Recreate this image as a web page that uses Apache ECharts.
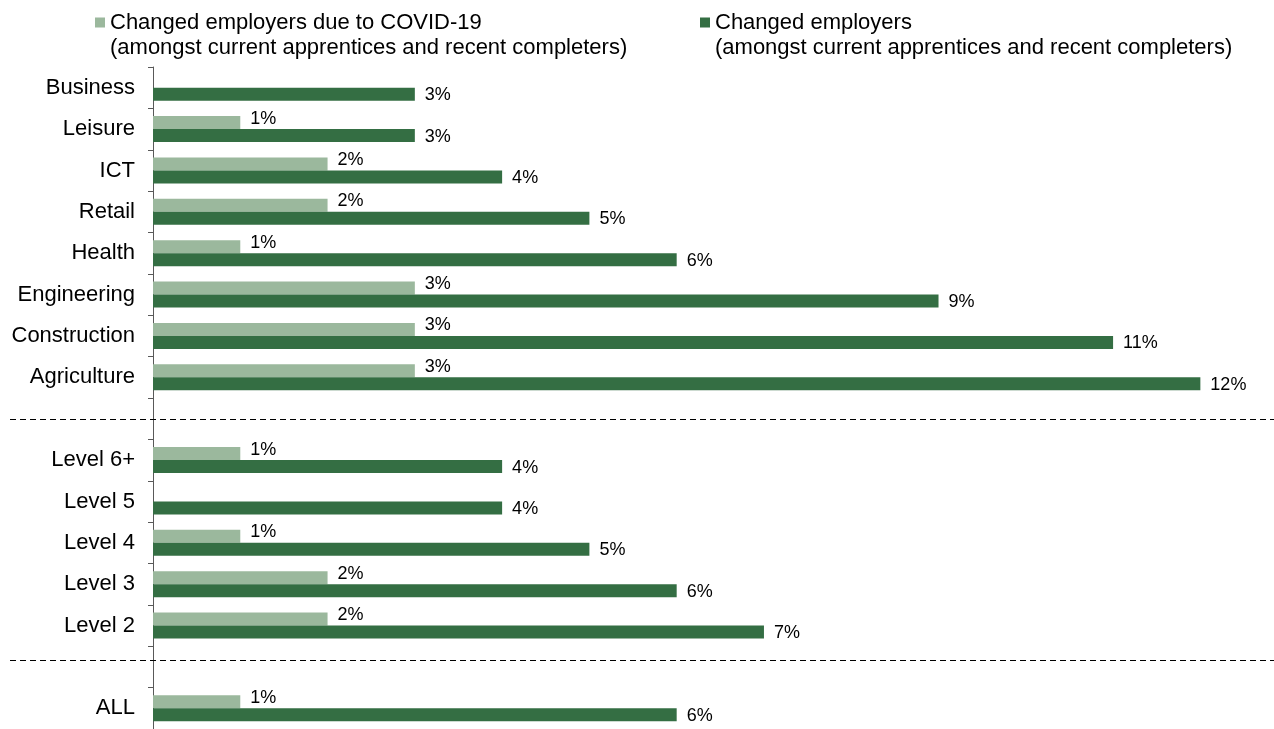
<!DOCTYPE html>
<html>
<head>
<meta charset="utf-8">
<script src="https://cdn.jsdelivr.net/npm/echarts@6/dist/echarts.min.js"></script>
<style>html,body{margin:0;padding:0;background:#fff}#c{width:1274px;height:729px}</style>
</head>
<body>
<div id="c"></div>
<script>
const categories = ['Business','Leisure','ICT','Retail','Health','Engineering','Construction','Agriculture','',
  'Level 6+','Level 5','Level 4','Level 3','Level 2',' ','ALL'];
const covidValues = [null,1,2,2,1,3,3,3,null,1,null,1,2,2,null,1];
const changedValues = [3,3,4,5,6,9,11,12,null,4,4,5,6,7,null,6];
const seriesNames = ['Changed employers due to COVID-19\n(amongst current apprentices and recent completers)',
  'Changed employers\n(amongst current apprentices and recent completers)'];
const separatorRows = [8, 14];

const FONT = 'Liberation Sans, Arial, sans-serif';
const LIGHT = '#9bb89d';
const DARK = '#346e43';

const chart = echarts.init(document.getElementById('c'), null, {renderer: 'canvas'});
const legendText = {fontFamily: FONT, fontSize: 22, color: '#000', lineHeight: 25};
// square at the top of a tall icon box, so the swatch sits beside the first text line
const legendIcon = 'path://M0,0h10v10h-10z M0,35h0.01v0.01h-0.01z';
const legendBase = {icon: legendIcon, itemWidth: 10, itemHeight: 35, itemGap: 3, padding: 0,
  textStyle: legendText, selectedMode: false, top: 10};
chart.setOption({
  animation: false,
  legend: [
    Object.assign({data: [seriesNames[0]], left: 95}, legendBase),
    Object.assign({data: [seriesNames[1]], left: 700}, legendBase)
  ],
  grid: {left: 153, right: 30, top: 67, bottom: -2, containLabel: false},
  xAxis: {type: 'value', min: 0, max: 12.5, show: false, splitLine: {show: false}},
  yAxis: {
    type: 'category', inverse: true, data: categories,
    axisLine: {show: true, lineStyle: {color: '#595959', width: 1}},
    axisTick: {show: true, length: 5, lineStyle: {color: '#595959'}},
    axisLabel: {fontFamily: FONT, fontSize: 22, color: '#000', margin: 18}
  },
  series: [
    {name: seriesNames[0], type: 'bar', data: covidValues, barWidth: 13, barGap: '0%',
     itemStyle: {color: LIGHT},
     label: {show: true, position: 'right', distance: 10, offset: [0, -4], formatter: '{c}%', fontFamily: FONT, fontSize: 18, color: '#000'}},
    {name: seriesNames[1], type: 'bar', data: changedValues, barWidth: 13, barGap: '0%',
     itemStyle: {color: DARK},
     label: {show: true, position: 'right', distance: 10, offset: [0, 1], formatter: '{c}%', fontFamily: FONT, fontSize: 18, color: '#000'}}
  ]
});

// dashed separators spanning the full width, positioned from the category axis
const p0 = chart.convertToPixel({yAxisIndex: 0}, 0);
const p1 = chart.convertToPixel({yAxisIndex: 0}, 1);
const band = p1 - p0;
const ys = [chart.convertToPixel({yAxisIndex: 0}, separatorRows[0]),
            chart.convertToPixel({yAxisIndex: 0}, separatorRows[1]) - 0.17 * band];
chart.setOption({
  graphic: ys.map(y => ({
    type: 'line', shape: {x1: 10, y1: Math.round(y) + 0.5, x2: 1274, y2: Math.round(y) + 0.5},
    style: {stroke: '#000', lineWidth: 1, lineDash: [6, 4]}, z: 10
  }))
});
</script>
</body>
</html>
